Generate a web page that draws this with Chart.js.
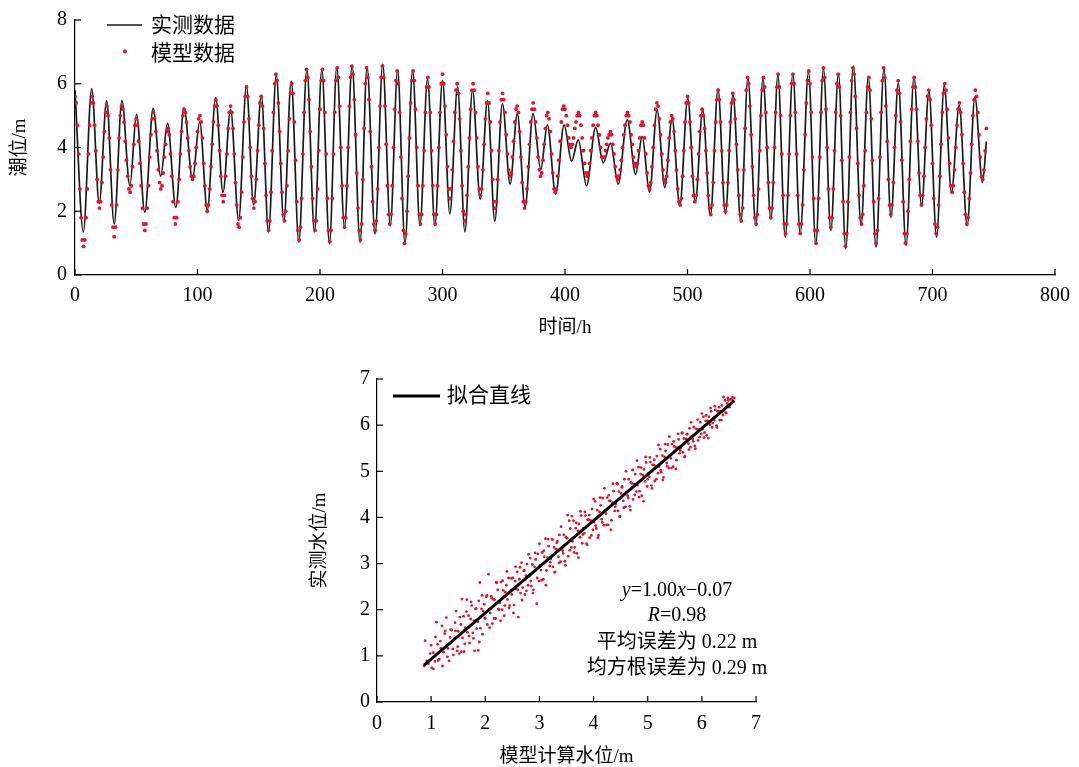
<!DOCTYPE html>
<html><head><meta charset="utf-8">
<script src="https://cdn.jsdelivr.net/npm/chart.js@4.4.1/dist/chart.umd.min.js"></script>
<style>
html,body{margin:0;padding:0;background:#fff;width:1079px;height:767px;overflow:hidden}
#w1{position:absolute;left:0;top:0;width:1079px;height:345px}
#w2{position:absolute;left:290px;top:360px;width:500px;height:407px}
</style></head><body>
<div id="w1"><canvas id="c1"></canvas></div>
<div id="w2"><canvas id="c2"></canvas></div>
<script>
// ---- Top chart: observed tide (turning points) ----
const obsTime = [0,6.8,13.6,19.8,25.8,32,38.3,44.8,50.2,57,63.8,70,75.5,82.3,89,95.9,101.8,108,114.9,120.8,127,133.6,139.9,145.8,152.1,158,164.3,170.5,176.5,182.7,189.3,195.5,201.5,207.7,213.7,220,226.2,232.7,238.4,245,251.2,257.4,263.4,269.4,275.6,281.6,287.8,293.8,300,306,312.3,318.3,324.5,330.8,336.7,342.7,348.9,355.2,361.1,367.4,373.9,380.2,385.6,392.4,399.2,405.4,410.8,417.6,425,431.2,437.2,443.4,450.8,457.6,463,469,475.2,481.5,487.4,493.7,500.2,506.4,512.4,518.7,524.9,530.9,537.1,543.6,549.3,555.8,561.6,568.1,573.8,579.8,586,592,598.8,604.7,611,617,623.2,629.2,635.4,641.7,647.6,653.9,660.4,666.1,672.1,678.4,684.9,691.1,697.1,703.3,709.6,715.5,721.8,728.3,734.6,740.8,744];
const obsLevel = [5.8,1.35,5.85,2.25,5.46,1.6,5.47,2.8,5.04,1.97,5.23,3.1,4.76,2.12,5.24,3.0,4.81,2.04,5.56,2.59,5.2,1.71,5.93,2.2,5.64,1.35,6.28,1.66,6.08,1.03,6.45,1.35,6.45,0.98,6.52,1.5,6.57,1.03,6.52,1.29,6.62,1.55,6.42,0.98,6.42,1.55,6.16,1.55,6.1,1.92,5.9,1.35,5.8,2.38,5.46,1.69,5.38,2.85,5.07,2.12,5.07,3.31,4.71,2.54,4.71,3.57,4.24,2.8,4.63,3.52,4.14,2.85,4.87,3.16,4.35,2.59,5.18,2.74,4.92,2.17,5.54,2.28,5.18,1.86,5.83,1.92,5.66,1.66,6.18,1.55,6.14,1.76,6.26,1.19,6.31,1.29,6.37,0.98,6.47,1.4,6.31,0.83,6.55,1.55,6.21,0.88,6.47,1.81,6.03,0.93,6.21,2.17,5.77,1.19,5.95,2.59,5.33,1.55,5.59,2.9,4.19];
// ---- Top chart: model tide, hourly from t = 0 h ----
const modelLevel = [5.6,
5.4,4.7,3.8,2.7,1.8,1.1,0.9,
1.1,1.8,2.7,3.8,4.7,5.4,5.6,
5.4,4.7,3.9,3.0,2.3,2.1,
2.3,2.9,3.7,4.5,5.1,5.3,
5.0,4.3,3.3,2.2,1.5,1.2,
1.5,2.2,3.3,4.3,5.0,5.3,
5.2,4.8,4.2,3.6,3.1,2.7,2.6,
2.8,3.4,4.1,4.7,4.9,
4.7,4.2,3.5,2.8,2.1,1.6,1.4,
1.6,2.1,2.8,3.7,4.4,4.9,5.1,
4.9,4.5,3.9,3.3,2.9,2.7,
2.8,3.2,3.7,4.1,4.5,4.6,
4.4,3.8,3.1,2.3,1.8,1.6,
1.8,2.3,3.0,3.8,4.5,5.0,5.2,
5.1,4.8,4.3,3.9,3.4,3.1,3.0,
3.1,3.5,4.0,4.5,4.9,5.0,
4.8,4.3,3.5,2.8,2.2,2.0,
2.2,2.7,3.4,4.1,4.8,5.3,5.5,
5.3,4.7,3.9,3.1,2.5,2.3,
2.5,3.1,3.8,4.6,5.1,5.3,
5.1,4.6,3.8,2.9,2.2,1.6,1.5,
1.8,2.6,3.7,4.8,5.6,5.9,
5.6,4.9,4.0,3.1,2.4,2.1,
2.3,3.0,3.9,4.7,5.4,5.6,
5.3,4.6,3.5,2.5,1.7,1.4,
1.7,2.6,3.9,5.1,6.0,6.3,
6.1,5.4,4.5,3.5,2.6,1.9,1.7,
2.0,2.8,3.9,4.9,5.7,6.0,
5.7,4.8,3.6,2.3,1.4,1.1,
1.5,2.4,3.8,5.1,6.1,6.45,
6.2,5.5,4.5,3.4,2.4,1.7,1.4,
1.7,2.7,3.9,5.2,6.1,6.45,
6.1,5.1,3.8,2.4,1.4,1.05,
1.4,2.4,3.8,5.1,6.1,6.5,
6.2,5.3,4.0,2.8,1.8,1.5,
1.8,2.8,4.0,5.3,6.2,6.55,
6.3,5.5,4.4,3.2,2.1,1.4,1.1,
1.6,3.0,4.6,6.0,6.5,
6.2,5.5,4.5,3.4,2.3,1.6,1.4,
1.7,2.7,4.0,5.3,6.2,6.55,
6.2,5.3,4.1,2.8,1.9,1.6,
1.9,2.8,4.0,5.2,6.1,6.4,
6.0,5.1,3.7,2.4,1.4,1.0,
1.3,2.0,3.1,4.3,5.4,6.1,6.4,
6.1,5.2,4.0,2.8,1.9,1.6,
1.9,2.8,3.9,5.1,5.9,6.2,
5.9,5.1,3.9,2.8,1.9,1.6,
1.9,2.8,4.0,5.1,6.0,6.3,
6.0,5.3,4.4,3.4,2.7,2.4,
2.7,3.3,4.2,5.1,5.8,6.0,
5.7,4.9,3.9,2.8,2.0,1.7,
1.9,2.5,3.4,4.3,5.2,5.8,6.0,
5.8,5.1,4.3,3.4,2.7,2.5,
2.7,3.3,4.1,4.9,5.4,5.7,
5.4,4.8,3.9,3.0,2.3,2.1,
2.3,3.0,3.9,4.8,5.5,5.7,
5.5,5.1,4.4,3.8,3.3,3.1,
3.2,3.7,4.2,4.8,5.2,5.3,
5.1,4.5,3.7,2.9,2.3,2.1,
2.3,2.7,3.4,4.1,4.8,5.2,5.4,
5.2,4.8,4.3,3.7,3.3,3.1,
3.2,3.6,4.1,4.6,5.0,5.1,
4.9,4.5,3.8,3.2,2.7,2.6,
2.7,3.1,3.6,4.2,4.8,5.2,5.3,
5.2,5.0,4.7,4.3,4.1,4.0,
4.1,4.3,4.6,4.8,5.0,5.1,
5.0,4.7,4.3,3.9,3.5,3.2,3.1,
3.2,3.5,3.9,4.3,4.7,5.0,5.1,
5.0,4.7,4.4,4.0,3.7,3.7,
3.7,3.9,4.1,4.3,4.4,4.5,
4.4,4.1,3.8,3.4,3.1,3.0,
3.1,3.3,3.6,4.0,4.4,4.7,5.0,5.1,
5.0,4.8,4.4,4.1,3.7,3.5,3.4,
3.5,3.9,4.3,4.7,4.8,
4.7,4.3,3.8,3.2,2.8,2.7,
2.9,3.4,4.0,4.7,5.2,5.4,
5.3,4.9,4.4,3.8,3.3,3.0,2.9,
3.1,3.6,4.3,4.8,5.0,
4.9,4.5,3.9,3.3,2.7,2.3,2.2,
2.4,3.1,3.9,4.8,5.4,5.6,
5.4,4.8,4.0,3.1,2.5,2.3,
2.5,3.0,3.8,4.5,5.0,5.2,
5.0,4.6,3.9,3.2,2.5,2.1,1.9,
2.2,2.9,3.9,4.8,5.5,5.8,
5.5,4.8,3.9,2.9,2.2,2.0,
2.2,2.9,3.9,4.8,5.4,5.7,
5.5,4.9,4.1,3.3,2.5,1.9,1.7,
2.1,3.3,4.6,5.8,6.2,
6.0,5.3,4.4,3.4,2.5,1.8,1.6,
1.9,2.7,3.9,5.0,5.8,6.2,
5.9,5.1,4.0,2.9,2.1,1.8,
2.1,2.9,4.0,5.1,5.9,6.3,
5.9,5.0,3.8,2.5,1.6,1.3,
1.6,2.5,3.8,5.0,6.0,6.3,
6.0,5.1,3.8,2.5,1.6,1.3,
1.6,2.2,3.3,4.4,5.4,6.1,6.4,
6.0,5.1,3.7,2.4,1.4,1.0,
1.4,2.4,3.7,5.1,6.1,6.5,
6.2,5.2,4.0,2.7,1.8,1.5,
1.8,2.7,3.9,5.1,6.0,6.3,
5.9,5.0,3.6,2.3,1.3,0.9,
1.3,2.3,3.7,5.1,6.1,6.5,
6.3,5.6,4.6,3.5,2.5,1.8,1.6,
1.9,2.8,3.9,5.1,5.9,6.2,
5.8,4.9,3.6,2.3,1.3,1.0,
1.4,2.4,3.7,5.1,6.1,6.5,
6.2,5.3,4.2,3.0,2.2,1.9,
2.2,2.9,4.0,5.0,5.8,6.1,
5.7,4.8,3.6,2.3,1.3,1.0,
1.3,2.0,3.0,4.2,5.2,5.9,6.2,
5.9,5.2,4.2,3.2,2.5,2.2,
2.5,3.1,4.0,4.9,5.6,5.8,
5.5,4.7,3.5,2.4,1.6,1.3,
1.5,2.2,3.1,4.1,5.1,5.7,6.0,
5.8,5.2,4.3,3.5,2.8,2.6,
2.8,3.3,4.0,4.7,5.2,5.4,
5.1,4.4,3.5,2.6,1.9,1.6,
1.8,2.4,3.2,4.1,5.0,5.5,5.8,
5.6,5.1,4.4,3.7,3.1,3.0,
3.3,3.9,4.6];
const seriesNames = ['实测数据','模型数据'];
const timeTicks = [0,100,200,300,400,500,600,700,800];
const levelTicks = [0,2,4,6,8];

// ---- Bottom chart: model (x) vs observed (y) ----
const calcVsObs = [[0.87,0.78],[0.89,1.33],[0.92,0.89],[0.95,0.83],[0.98,1.05],[1.01,0.74],[1.04,1.07],[1.07,0.88],[1.10,1.73],[1.12,1.25],[1.15,0.93],[1.18,1.16],[1.20,1.65],[1.23,1.08],[1.25,1.48],[1.28,1.83],[1.30,0.98],[1.33,0.89],[1.35,1.40],[1.38,1.56],[1.40,1.15],[1.43,1.38],[1.44,1.72],[1.46,1.97],[1.48,1.11],[1.50,1.53],[1.52,1.05],[1.55,1.68],[1.57,2.23],[1.58,1.39],[1.60,1.86],[1.62,1.26],[1.63,1.61],[1.66,2.22],[1.67,1.51],[1.69,1.87],[1.71,1.28],[1.73,1.80],[1.75,2.09],[1.77,1.50],[1.79,1.76],[1.80,1.11],[1.82,2.02],[1.84,1.59],[1.86,1.74],[1.87,1.12],[1.88,2.19],[1.90,2.59],[1.91,1.60],[1.93,2.02],[1.95,1.47],[1.96,1.97],[1.98,2.12],[2.00,1.81],[2.02,2.28],[2.04,1.68],[2.06,2.77],[2.07,2.01],[2.09,1.93],[2.11,2.29],[2.13,1.70],[2.15,2.22],[2.17,2.22],[2.19,1.81],[2.21,2.58],[2.23,2.43],[2.25,2.00],[2.27,2.15],[2.29,2.60],[2.31,2.00],[2.33,2.42],[2.35,1.87],[2.37,2.38],[2.39,2.53],[2.41,2.22],[2.43,2.69],[2.45,2.09],[2.47,2.41],[2.49,2.33],[2.51,2.69],[2.53,2.10],[2.55,2.62],[2.57,2.45],[2.59,2.82],[2.61,1.84],[2.63,2.66],[2.65,2.36],[2.67,3.02],[2.69,2.48],[2.71,2.84],[2.73,2.33],[2.75,2.74],[2.77,2.99],[2.79,2.53],[2.81,2.72],[2.83,3.12],[2.85,2.51],[2.87,2.98],[2.89,2.43],[2.91,2.93],[2.93,3.09],[2.95,2.13],[2.97,3.21],[2.99,2.62],[3.01,2.96],[3.03,2.86],[3.05,3.24],[3.07,2.66],[3.09,3.15],[3.11,3.54],[3.13,2.85],[3.15,3.13],[3.17,3.38],[3.19,2.95],[3.21,3.10],[3.23,3.53],[3.25,2.93],[3.27,3.35],[3.29,2.82],[3.31,3.31],[3.33,3.48],[3.35,3.15],[3.37,3.62],[3.39,3.04],[3.41,3.34],[3.43,3.28],[3.45,3.62],[3.47,3.05],[3.49,3.57],[3.51,3.55],[3.53,3.16],[3.55,3.93],[3.57,3.76],[3.59,3.35],[3.61,3.48],[3.63,3.93],[3.65,3.35],[3.67,3.77],[3.69,3.22],[3.71,3.71],[3.73,3.86],[3.75,3.57],[3.77,4.04],[3.79,3.44],[3.81,3.76],[3.83,3.66],[3.85,4.04],[3.87,3.43],[3.89,3.95],[3.91,3.95],[3.93,3.56],[3.95,3.93],[3.97,4.18],[3.99,3.73],[4.01,3.90],[4.03,4.35],[4.05,3.76],[4.07,4.16],[4.09,3.61],[4.11,4.12],[4.13,4.26],[4.15,3.96],[4.17,4.42],[4.19,3.83],[4.21,4.15],[4.23,4.08],[4.25,4.43],[4.27,3.84],[4.29,4.36],[4.31,4.36],[4.33,3.94],[4.35,4.32],[4.37,4.57],[4.39,4.14],[4.41,4.29],[4.43,4.74],[4.45,4.14],[4.47,4.56],[4.49,4.02],[4.51,4.52],[4.53,4.67],[4.55,4.36],[4.57,4.83],[4.59,4.23],[4.61,4.55],[4.63,4.47],[4.65,4.83],[4.67,4.24],[4.69,4.76],[4.71,4.74],[4.73,4.39],[4.75,4.72],[4.77,4.94],[4.79,4.56],[4.81,4.70],[4.83,5.09],[4.85,4.57],[4.87,4.94],[4.89,4.47],[4.91,4.91],[4.93,5.04],[4.95,4.78],[4.97,5.19],[4.99,4.67],[5.01,4.95],[5.03,4.88],[5.05,5.20],[5.07,4.69],[5.09,5.14],[5.11,5.14],[5.13,4.79],[5.15,5.11],[5.17,5.33],[5.19,4.96],[5.21,5.10],[5.23,5.48],[5.25,4.98],[5.27,5.34],[5.29,4.87],[5.31,5.31],[5.33,5.44],[5.35,5.18],[5.37,5.58],[5.39,5.07],[5.41,5.35],[5.43,5.28],[5.45,5.59],[5.47,5.10],[5.49,5.54],[5.51,5.52],[5.53,5.24],[5.55,5.51],[5.57,5.69],[5.59,5.39],[5.61,5.51],[5.63,5.83],[5.65,5.41],[5.67,5.71],[5.69,5.33],[5.71,5.70],[5.73,5.81],[5.75,5.60],[5.77,5.93],[5.79,5.52],[5.81,5.75],[5.83,5.70],[5.85,5.96],[5.87,5.55],[5.89,5.92],[5.91,5.91],[5.93,5.67],[5.95,5.90],[5.97,6.06],[5.99,5.81],[6.01,5.91],[6.03,6.18],[6.05,5.84],[6.07,6.09],[6.09,5.78],[6.11,6.09],[6.13,6.18],[6.15,6.01],[6.17,6.30],[6.19,5.95],[6.21,6.15],[6.23,6.11],[6.25,6.33],[6.27,5.99],[6.29,6.30],[6.31,6.30],[6.33,6.11],[6.35,6.30],[6.37,6.43],[6.39,6.22],[6.41,6.32],[6.43,6.54],[6.45,6.26],[6.47,6.47],[6.49,6.54],[6.51,6.39],[6.53,6.56],[6.55,6.56],[6.57,6.60],[6.60,6.59],
[1.00,1.23],[1.04,0.72],[1.08,1.41],[1.13,0.90],[1.17,1.32],[1.21,0.78],[1.26,1.54],[1.31,1.16],[1.36,1.57],[1.41,1.02],[1.45,1.54],[1.49,1.20],[1.53,1.84],[1.56,1.09],[1.61,1.09],[1.65,1.96],[1.70,1.43],[1.74,2.17],[1.78,1.38],[1.83,2.03],[1.89,1.30],[1.94,2.31],[1.99,1.82],[2.03,2.31],[2.08,1.61],[2.12,2.25],[2.16,1.81],[2.20,2.60],[2.24,2.02],[2.28,1.76],[2.32,2.63],[2.36,2.09],[2.40,2.83],[2.44,2.04],[2.48,2.68],[2.52,1.93],[2.56,2.93],[2.60,2.43],[2.64,2.92],[2.68,2.21],[2.72,2.85],[2.76,2.41],[2.80,3.20],[2.84,2.62],[2.88,2.36],[2.92,3.23],[2.96,2.69],[3.00,3.43],[3.04,2.64],[3.08,3.28],[3.12,2.53],[3.16,3.53],[3.20,3.03],[3.24,3.52],[3.28,2.81],[3.32,3.45],[3.36,3.01],[3.40,3.80],[3.44,3.22],[3.48,2.96],[3.52,4.05],[3.56,3.29],[3.60,4.03],[3.64,3.24],[3.68,3.88],[3.72,3.13],[3.76,4.13],[3.80,3.63],[3.84,4.12],[3.88,3.41],[3.92,4.05],[3.96,3.61],[4.00,4.40],[4.04,3.82],[4.08,3.56],[4.12,4.43],[4.16,3.89],[4.20,4.63],[4.24,3.84],[4.28,4.48],[4.32,3.73],[4.36,4.73],[4.40,4.23],[4.44,4.72],[4.48,4.01],[4.52,4.65],[4.56,4.21],[4.60,5.00],[4.64,4.42],[4.68,4.16],[4.72,5.03],[4.76,4.49],[4.80,5.23],[4.84,4.44],[4.88,5.08],[4.92,4.35],[4.96,5.31],[5.00,4.83],[5.04,5.30],[5.08,4.63],[5.12,5.25],[5.16,4.83],[5.20,5.57],[5.24,5.02],[5.28,4.81],[5.32,5.59],[5.36,5.11],[5.40,5.75],[5.44,5.07],[5.48,5.65],[5.52,5.05],[5.56,5.81],[5.60,5.45],[5.64,5.83],[5.68,5.31],[5.72,5.80],[5.76,5.47],[5.80,6.06],[5.84,5.65],[5.88,5.49],[5.92,6.12],[5.96,5.74],[6.00,6.25],[6.04,5.73],[6.08,6.21],[6.12,5.72],[6.16,6.37],[6.20,6.05],[6.24,6.41],[6.28,5.95],[6.32,6.39],[6.36,6.11],[6.40,6.61],[6.44,6.27],[6.48,6.59]];
const fitX = [0.87,6.6];
const fitY = [0.80,6.53];
const fitName = '拟合直线';
const statLines = ['y=1.00x−0.07','R=0.98','平均误差为 0.22 m','均方根误差为 0.29 m'];
const levelTicks2 = [0,1,2,3,4,5,6,7];

const SERIF = "'Liberation Serif','Times New Roman','Noto Sans CJK SC',serif";
const RED = '#e3122d';

const inTicks = {
  id: 'inTicks',
  afterDatasetsDraw(chart, args, opts) {
    const ctx = chart.ctx, len = opts.len || 6;
    const xs = chart.scales.x, ys = chart.scales.y;
    ctx.save(); ctx.strokeStyle = '#000'; ctx.lineWidth = 1.2;
    xs.ticks.forEach(t => { const p = xs.getPixelForValue(t.value); ctx.beginPath(); ctx.moveTo(p, xs.top); ctx.lineTo(p, xs.top - len); ctx.stroke(); });
    ys.ticks.forEach(t => { const p = ys.getPixelForValue(t.value); ctx.beginPath(); ctx.moveTo(ys.right, p); ctx.lineTo(ys.right + len, p); ctx.stroke(); });
    ctx.restore();
  }
};

const legendTop = {
  id: 'legendTop',
  afterDraw(chart) {
    const ctx = chart.ctx;
    ctx.save();
    ctx.strokeStyle = '#1a1a1a'; ctx.lineWidth = 1.7;
    ctx.beginPath(); ctx.moveTo(107, 25); ctx.lineTo(142, 25); ctx.stroke();
    ctx.fillStyle = RED; ctx.beginPath(); ctx.arc(125, 51.5, 2, 0, Math.PI * 2); ctx.fill();
    ctx.fillStyle = '#000'; ctx.font = '21px ' + SERIF; ctx.textBaseline = 'middle'; ctx.textAlign = 'left';
    ctx.fillText(chart.data.datasets[1].label, 151, 26);
    ctx.fillText(chart.data.datasets[0].label, 151, 54);
    ctx.restore();
  }
};

function richText(ctx, parts, cx, y) {
  let w = 0;
  parts.forEach(p => { ctx.font = (p.i ? 'italic ' : '') + '20px ' + SERIF; p.w = ctx.measureText(p.t).width; w += p.w; });
  let x = cx - w / 2;
  parts.forEach(p => { ctx.font = (p.i ? 'italic ' : '') + '20px ' + SERIF; ctx.fillText(p.t, x, y); x += p.w; });
}

const legendBottom = {
  id: 'legendBottom',
  afterDraw(chart) {
    const ctx = chart.ctx;
    ctx.save();
    ctx.strokeStyle = '#000'; ctx.lineWidth = 3;
    ctx.beginPath(); ctx.moveTo(103, 36); ctx.lineTo(150, 36); ctx.stroke();
    ctx.fillStyle = '#000'; ctx.font = '21px ' + SERIF; ctx.textBaseline = 'middle'; ctx.textAlign = 'left';
    ctx.fillText(chart.data.datasets[0].label, 157, 36);
    const cx = 387;
    richText(ctx, [{t: 'y', i: true}, {t: statLines[0].slice(1, 6)}, {t: 'x', i: true}, {t: statLines[0].slice(7)}], cx, 231);
    richText(ctx, [{t: 'R', i: true}, {t: statLines[1].slice(1)}], cx, 256);
    richText(ctx, [{t: statLines[2]}], cx, 283);
    richText(ctx, [{t: statLines[3]}], cx, 309);
    ctx.restore();
  }
};

const tickFont = {family: SERIF, size: 20};
const titleFont = {family: SERIF, size: 19, lineHeight: 1};

new Chart(document.getElementById('c1'), {
  data: {
    datasets: [
      {type: 'scatter', label: seriesNames[1], data: modelLevel.map((v, i) => ({x: i, y: v})), pointRadius: 1.9, pointBackgroundColor: RED, pointBorderWidth: 0, order: 0},
      {type: 'line', label: seriesNames[0], data: obsTime.map((t, i) => ({x: t, y: obsLevel[i]})), borderColor: '#1a1a1a', borderWidth: 1.7, pointRadius: 0, cubicInterpolationMode: 'monotone', fill: false, order: 1}
    ]
  },
  options: {
    responsive: true, maintainAspectRatio: false, animation: false, devicePixelRatio: 1,
    layout: {padding: {left: 0, right: 22, top: 17, bottom: 0}},
    plugins: {legend: {display: false}, tooltip: {enabled: false}, inTicks: {len: 6}},
    scales: {
      x: {type: 'linear', min: 0, max: 800,
        afterBuildTicks(s) { s.ticks = timeTicks.map(v => ({value: v})); },
        afterFit(s) { s.height = 70; },
        grid: {display: false, drawTicks: false}, border: {display: true, color: '#000', width: 1.2},
        ticks: {font: tickFont, color: '#000', padding: 9, maxRotation: 0},
        title: {display: true, text: '时间/h', font: titleFont, color: '#000', padding: {top: 0, bottom: 7}}},
      y: {type: 'linear', min: 0, max: 8,
        afterBuildTicks(s) { s.ticks = levelTicks.map(v => ({value: v})); },
        afterFit(s) { s.width = 75; },
        grid: {display: false, drawTicks: false}, border: {display: true, color: '#000', width: 1.2},
        ticks: {font: tickFont, color: '#000', padding: 8},
        title: {display: true, text: '潮位/m', font: titleFont, color: '#000', padding: {top: 10.5, bottom: 0}}}
    }
  },
  plugins: [inTicks, legendTop]
});

new Chart(document.getElementById('c2'), {
  data: {
    datasets: [
      {type: 'line', label: fitName, data: fitX.map((x, i) => ({x: x, y: fitY[i]})), borderColor: '#000', borderWidth: 3, pointRadius: 0, fill: false, order: 0},
      {type: 'scatter', label: '散点', data: calcVsObs.map(p => ({x: p[0], y: p[1]})), pointRadius: 1.4, pointBackgroundColor: RED, pointBorderWidth: 0, order: 1}
    ]
  },
  options: {
    responsive: true, maintainAspectRatio: false, animation: false, devicePixelRatio: 1,
    layout: {padding: {left: 0, right: 34, top: 17, bottom: 0}},
    plugins: {legend: {display: false}, tooltip: {enabled: false}, inTicks: {len: 6}},
    scales: {
      x: {type: 'linear', min: 0, max: 7,
        afterBuildTicks(s) { s.ticks = levelTicks2.map(v => ({value: v})); },
        afterFit(s) { s.height = 65; },
        grid: {display: false, drawTicks: false}, border: {display: true, color: '#000', width: 1.2},
        ticks: {font: tickFont, color: '#000', padding: 10, maxRotation: 0},
        title: {display: true, text: '模型计算水位/m', font: titleFont, color: '#000', padding: {top: 0, bottom: 0.5}}},
      y: {type: 'linear', min: 0, max: 7,
        afterBuildTicks(s) { s.ticks = levelTicks2.map(v => ({value: v})); },
        afterFit(s) { s.width = 87; },
        grid: {display: false, drawTicks: false}, border: {display: true, color: '#000', width: 1.2},
        ticks: {font: tickFont, color: '#000', padding: 7},
        title: {display: true, text: '实测水位/m', font: titleFont, color: '#000', padding: {top: 20.5, bottom: 0}}}
    }
  },
  plugins: [inTicks, legendBottom]
});
</script>
</body></html>
